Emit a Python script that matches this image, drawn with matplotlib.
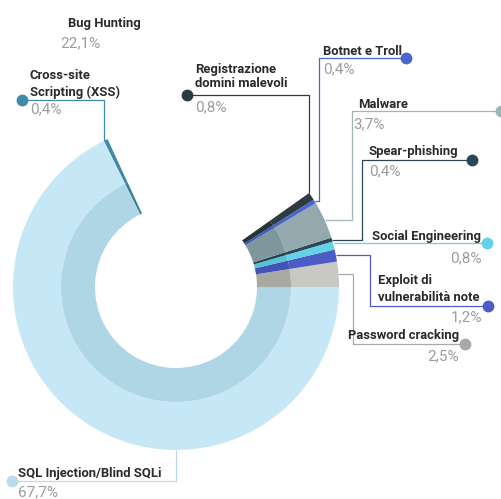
import numpy as np
import matplotlib
matplotlib.use("Agg")
import matplotlib.pyplot as plt

# ---- data (counter-clockwise from east) ----
categories = ["Password cracking", "Exploit di\nvulnerabilità note", "Social Engineering",
              "Spear-phishing", "Malware", "Botnet e Troll", "Registrazione\ndomini malevoli",
              "Bug Hunting", "Cross-site\nScripting (XSS)", "SQL Injection/Blind SQLi"]
values = [2.5, 1.2, 0.8, 0.4, 3.7, 0.4, 0.8, 22.1, 0.4, 67.7]
pct_labels = ["2,5%", "1,2%", "0,8%", "0,4%", "3,7%", "0,4%", "0,8%", "22,1%", "0,4%", "67,7%"]

outer_colors = ["#c9c9c3", "#4b5cc4", "#62d2e6", "#2b4657", "#93a9ad", "#4a66cc", "#2d3b42",
                "#ffffff", "#3f8aa6", "#c6e7f6"]
inner_colors = ["#a9a9a3", "#4352b4", "#56c2d6", "#26404f", "#7f979c", "#425cbc", "#27353b",
                "#ffffff", "#38809a", "#afd6e4"]
line_colors = ["#a8a8a8", "#4b5cc4", "#62d2e6", "#2b4657", "#a3b4b8", "#4a66cc", "#2d3b42",
               None, "#3f8aa6", "#b9dcea"]

W, H = 502, 499
fig = plt.figure(figsize=(W / 100, H / 100), dpi=100)
ax = fig.add_axes([0, 0, 1, 1])

cx, cy_px = 176, 287
cy = H - cy_px
R, Rm, Ri = 163, 115, 81

ax.pie(values, colors=outer_colors, radius=R, center=(cx, cy), startangle=0,
       counterclock=True, wedgeprops=dict(width=R - Rm, linewidth=0), frame=True)
ax.pie(values, colors=inner_colors, radius=Rm, center=(cx, cy), startangle=0,
       counterclock=True, wedgeprops=dict(width=Rm - Ri, linewidth=0), frame=True)
ax.set_xlim(0, W)
ax.set_ylim(0, H)
ax.set_aspect("equal")
ax.axis("off")

# angles
cum = np.concatenate([[0], np.cumsum(values)])
ang_start = cum[:-1] / 100 * 360
ang_end = cum[1:] / 100 * 360
mid = (ang_start + ang_end) / 2


def anchor(i, ang=None):
    a = np.deg2rad(mid[i] if ang is None else ang)
    return cx + R * np.cos(a), cy_px - R * np.sin(a)


def Y(y):
    return H - y


def path(pts, col):
    xs = [p[0] for p in pts]
    ys = [Y(p[1]) for p in pts]
    ax.plot(xs, ys, color=col, lw=0.9, solid_capstyle="butt", zorder=3)


def dot(x, y, col):
    ax.plot([x], [Y(y)], "o", ms=7.5, color=col, mec=col, zorder=4)


LAB = dict(fontsize=9.4, color="#2a2a2a", fontweight="bold", family="Roboto")
PCT = dict(fontsize=11, color="#9c9c9c", fontweight="normal", family="Roboto")


def label(x, y, s, ha="left", **kw):
    ax.text(x, Y(y), s, ha=ha, va="baseline", **{**LAB, **kw})


def pct(x, y, s, ha="left"):
    ax.text(x, Y(y), s, ha=ha, va="baseline", **PCT)


# Bug Hunting (no leader)
label(68, 27, categories[7])
pct(60, 47, pct_labels[7])

# Cross-site XSS
i = 8
ax_, ay_ = anchor(i, ang_end[i])
path([(22, 100), (ax_, 100), (ax_, ay_)], line_colors[i])
dot(22, 100, line_colors[i])
label(30, 79, "Cross-site")
label(30, 96, "Scripting (XSS)")
pct(30, 113, pct_labels[i])

# Registrazione
i = 6
ax_, ay_ = anchor(i, ang_end[i])
path([(187, 95), (ax_, 95), (ax_, ay_)], line_colors[i])
dot(187, 95, line_colors[i])
label(195, 73, "Registrazione")
label(195, 87, "domini malevoli")
pct(195, 111, pct_labels[i])

# Botnet
i = 5
ax_, ay_ = anchor(i)
path([(406, 58), (319, 58), (319, ay_), (ax_, ay_)], line_colors[i])
dot(406, 58, line_colors[i])
label(323, 55, categories[i])
pct(323, 73, pct_labels[i])

# Malware
i = 4
ax_, ay_ = anchor(i)
path([(501, 111), (352, 111), (352, ay_), (ax_, ay_)], line_colors[i])
dot(501, 111, line_colors[i])
label(358, 108, categories[i])
pct(353, 128, pct_labels[i])

# Spear-phishing
i = 3
ax_, ay_ = anchor(i)
path([(472, 160), (362, 160), (362, ay_), (ax_, ay_)], line_colors[i])
dot(472, 160, line_colors[i])
label(369, 155, categories[i])
pct(369, 175, pct_labels[i])

# Social Engineering
i = 2
ax_, ay_ = anchor(i)
path([(ax_, 243), (487, 243)], line_colors[i])
dot(487, 243, line_colors[i])
label(481, 240, categories[i], ha="right")
pct(482, 262, pct_labels[i], ha="right")

# Exploit
i = 1
ax_, ay_ = anchor(i)
path([(ax_, ay_), (370, ay_), (370, 306), (488, 306)], line_colors[i])
dot(488, 306, line_colors[i])
label(378, 284, "Exploit di")
label(378, 301, "vulnerabilità note")
pct(482, 321, pct_labels[i], ha="right")

# Password cracking
i = 0
ax_, ay_ = anchor(i)
path([(ax_, ay_), (353, ay_), (353, 344), (465, 344)], line_colors[i])
dot(465, 344, line_colors[i])
label(459, 339, categories[i], ha="right")
pct(459, 360, pct_labels[i], ha="right")

# SQL Injection
i = 9
ax_, ay_ = anchor(i, 270)
path([(ax_, ay_), (ax_, 481), (12, 481)], line_colors[i])
dot(12, 481, line_colors[i])
label(18, 477, categories[i])
pct(18, 496, pct_labels[i])

fig.savefig("out.png", dpi=100)
